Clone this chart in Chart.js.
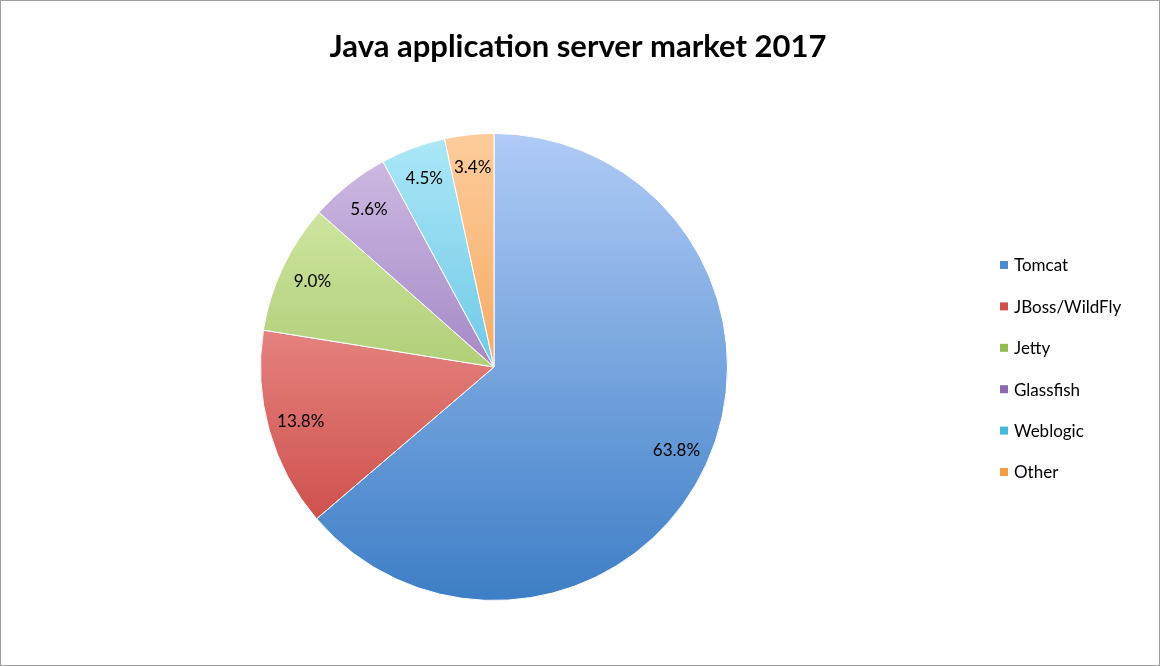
<!DOCTYPE html>
<html><head><meta charset="utf-8">
<script src="https://cdn.jsdelivr.net/npm/chart.js@4/dist/chart.umd.min.js"></script>
<style>html,body{margin:0;padding:0;background:#fff}#w{width:1160px;height:666px;position:relative}</style>
</head><body><div id="w"><canvas id="c" width="1160" height="666"></canvas></div>
<script>
const categories = ["Tomcat","JBoss/WildFly","Jetty","Glassfish","Weblogic","Other"];
const shares = [63.8,13.8,9.0,5.6,4.5,3.4];
const labels = ["63.8%","13.8%","9.0%","5.6%","4.5%","3.4%"];
const topColors = ["#b0cbf6","#fab4b2","#dcf0b4","#d2bfe6","#ade8f8","#fdcc9c"];
const botColors = ["#3d7ec6","#c63c38","#86ad3c","#7854a6","#31aad6","#f08a2c"];
const legendColors = ["#4f8ad0","#d0504c","#95bc4e","#8a68b4","#46b8de","#f49a44"];

const FONT = "Lato, 'Open Sans', sans-serif";
const deco = {
  id:'deco',
  afterDraw(chart){
    const ctx = chart.ctx;
    ctx.save();
    ctx.strokeStyle = '#a0a0a0'; ctx.lineWidth = 1;
    ctx.strokeRect(0.5,0.5,1159,665);
    ctx.fillStyle = '#000'; ctx.textAlign='center'; ctx.textBaseline='middle';
    ctx.font = "bold 31px " + FONT;
    ctx.fillText("Java application server market 2017", 578, 47);
    const meta = chart.getDatasetMeta(0);
    ctx.font = "17px " + FONT;
    meta.data.forEach((arc,i)=>{
      const mid = (arc.startAngle+arc.endAngle)/2;
      const r = arc.outerRadius*0.86;
      ctx.fillText(labels[i], arc.x+Math.cos(mid)*r, arc.y+Math.sin(mid)*r);
    });
    ctx.textAlign='left';
    categories.forEach((c,i)=>{
      const y = 265 + i*41.4;
      ctx.fillStyle = legendColors[i];
      ctx.fillRect(1000, y-4, 8, 8);
      ctx.fillStyle = '#000';
      ctx.fillText(c, 1014, y+1);
    });
    ctx.restore();
  }
};
function grad(context){
  const i = context.dataIndex;
  const ch = context.chart, a = ch.chartArea;
  if(!a || i === undefined) return topColors[i||0];
  const g = ch.ctx.createLinearGradient(0,a.top,0,a.bottom);
  g.addColorStop(0, topColors[i]); g.addColorStop(1, botColors[i]);
  return g;
}
new Chart(document.getElementById('c'),{
  type:'pie',
  data:{labels:categories,datasets:[{data:shares,backgroundColor:grad,borderColor:'#fff',borderWidth:1}]},
  options:{responsive:false,animation:false,
    layout:{padding:{top:133,bottom:65,left:260,right:432}},
    plugins:{legend:{display:false},tooltip:{enabled:false},title:{display:false}}},
  plugins:[deco]
});
</script></body></html>
